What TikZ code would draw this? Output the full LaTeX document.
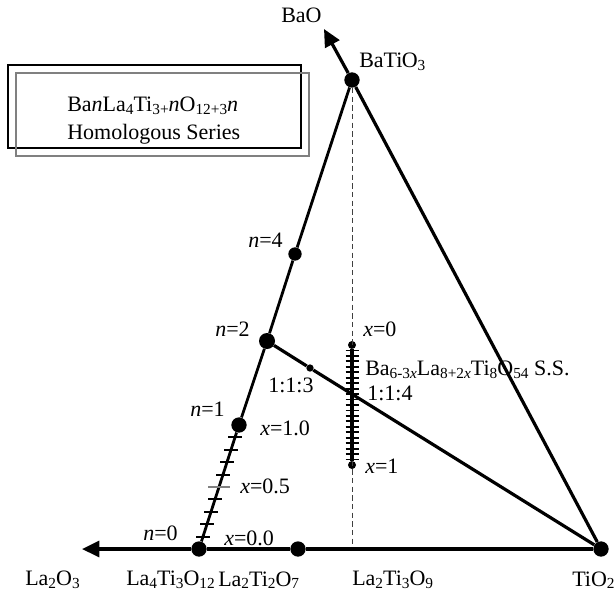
\documentclass[tikz,border=0pt]{standalone}
\usepackage{fontspec}
\setmainfont{Liberation Serif}
\usetikzlibrary{arrows.meta, calc, positioning}
\newcommand\sbx[1]{\raisebox{-0.25ex}{\fontsize{11.5}{12}\selectfont #1}}

\begin{document}
\begin{tikzpicture}[x=0.75pt, y=-0.75pt,
    every node/.style={font=\fontsize{16.5}{19}\selectfont},
    lbl/.style={inner sep=0pt, anchor=west},
    bigdot/.style={circle, fill=black, inner sep=0pt, minimum size=11.5pt},
    smalldot/.style={circle, fill=black, inner sep=0pt, minimum size=6pt},
    thickline/.style={line width=2.4pt},
    tickmark/.style={line width=1.4pt}]
    % Fixed frame, same size as the reference
    \useasboundingbox (0,0) rectangle (616,594);

    \node[bigdot] (la4) at (199,549) {};
    \node[bigdot] (la2ti2) at (298,549) {};
    \node[bigdot] (tio2) at (601,549) {};
    \node[bigdot] (batio3) at (352,80) {};
    \node[bigdot] (n1) at (239,425) {};
    \node[bigdot, minimum size=12pt] (n2) at (267,341) {};
    \node[bigdot, minimum size=10pt] (n4) at (295,254) {};
    \node[smalldot] (x0) at (352,345) {};
    \node[smalldot] (x1) at (352,465) {};
    \node[smalldot, minimum size=5.5pt] (r113) at (310,368) {};
    \coordinate (la2o3tip) at (82,549);
    \coordinate (baotip) at (324,29);
    \coordinate (foot) at (352,549);

    \draw[black!75, line width=0.6pt, dash pattern=on 4pt off 2.5pt] (batio3) -- (foot);
    \draw[thickline, -{Triangle[length=13pt, width=12pt]}] (tio2) -- (la2ti2) -- (la4) -- (la2o3tip);
    \draw[thickline, -{Triangle[length=13pt, width=12pt]}] (tio2) -- (batio3) -- (baotip);
    \draw[line width=2.1pt] (la4) -- (n1) -- (n2) -- (n4) -- (batio3);
    \draw[thickline] (n2) -- (r113) -- (tio2);
    \draw[thickline] (x0) -- (x1);

    \foreach \t in {0.1,0.2,0.3,0.4,0.6,0.7,0.8,0.9}
        \draw[tickmark] ($(la4)!\t!(n1)$) ++(-7,0) -- ++(14,0);
    \draw[gray, line width=0.8pt] ($(la4)!0.5!(n1)$) ++(-11,0) -- ++(22,0);
    \foreach \i in {1,...,21}
        \draw[tickmark] ($(x0)!{\i/22}!(x1)$) ++(-6.5,0) -- ++(13,0);

    \draw[line width=0.9pt] (8,65) rectangle (301,148);
    \draw[gray, line width=0.9pt] (16,73) rectangle (309,156);
    \node[lbl, align=left, font=\fontsize{16.5}{21}\selectfont] (title) at (67,121)
        {Ba\textit{n}La\sbx{4}Ti\sbx{3+}\textit{n}O\sbx{12+3}\textit{n}\\Homologous Series};

    \node[lbl] (bao) at (281,15) {BaO};
    \node[lbl] (batio3lbl) at (359,62) {BaTi\kern-0.5pt O\sbx{3}};
    \node[lbl] (n4lbl) at (248,240) {\textit{n}=4};
    \node[lbl] (n2lbl) at (215,329) {\textit{n}=2};
    \node[lbl] (n1lbl) at (190,409) {\textit{n}=1};
    \node[lbl] (n0lbl) at (143,533) {\textit{n}=0};
    \node[lbl] (x10lbl) at (260,428) {\textit{x}=1.0};
    \node[lbl] (x05lbl) at (240,486) {\textit{x}=0.5};
    \node[lbl] (x00lbl) at (224,538) {\textit{x}=0.0};
    \node[lbl] (x0lbl) at (363,329) {\textit{x}=0};
    \node[lbl] (x1lbl) at (365,466) {\textit{x}=1};
    \node[lbl] (r113lbl) at (268,385) {1:1:3};
    \node[lbl] (r114lbl) at (367,393) {1:1:4};
    \node[lbl] (sslbl) at (365,370)
        {Ba\sbx{6-3\textit{x}}La\sbx{8+2\textit{x}}Ti\sbx{8}O\sbx{54} S.S.};
    \node[lbl] (la2o3) at (25,580) {La\sbx{2}O\sbx{3}};
    \node[lbl] (la4lbl) at (126,580) {La\sbx{4}Ti\sbx{3}O\sbx{12}};
    \node[lbl] (la2ti2lbl) at (218,580) {La\sbx{2}Ti\sbx{2}O\sbx{7}};
    \node[lbl] (la2ti3lbl) at (352,580) {La\sbx{2}Ti\sbx{3}O\sbx{9}};
    \node[lbl] (tio2lbl) at (572,580) {TiO\sbx{2}};
\end{tikzpicture}
\end{document}
